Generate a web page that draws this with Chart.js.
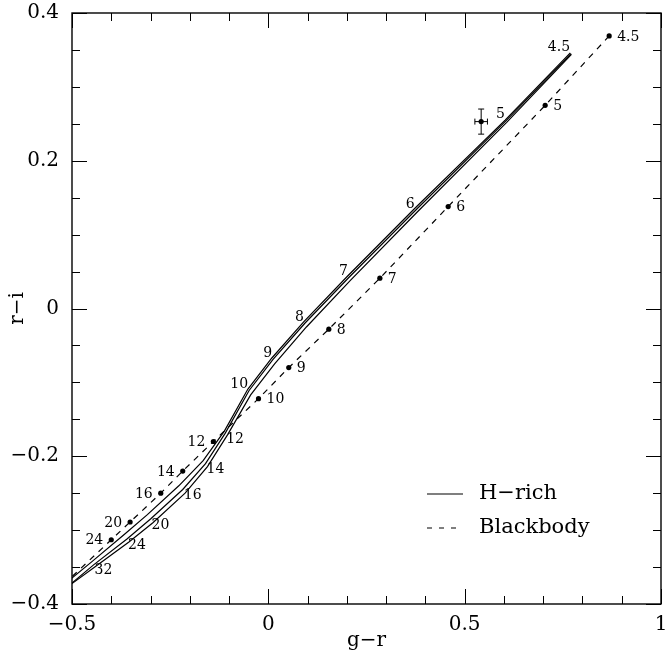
<!DOCTYPE html>
<html><head><meta charset="utf-8">
<script src="https://cdn.jsdelivr.net/npm/chart.js@4.4.0/dist/chart.umd.min.js"></script>
<style>html,body{margin:0;padding:0;background:#fff;}</style>
</head><body>
<canvas id="c" width="665" height="661"></canvas>
<script>
// ---- data ----
const hrichLabels = ['4.5','5','6','7','8','9','10','12','14','16','20','24','32',''];
const hrichA_x = [0.771, 0.605, 0.375, 0.205, 0.093, 0.012, -0.049, -0.110, -0.160, -0.218, -0.300, -0.360, -0.445, -0.530];
const hrichA_y = [0.345, 0.254, 0.133, 0.042, -0.020, -0.069, -0.111, -0.169, -0.210, -0.245, -0.285, -0.312, -0.347, -0.385];
const hrichB_x = [0.769, 0.603, 0.372, 0.202, 0.090, 0.009, -0.052, -0.112, -0.166, -0.228, -0.308, -0.367, -0.450, -0.530];
const hrichB_y = [0.346, 0.255, 0.135, 0.044, -0.018, -0.067, -0.109, -0.166, -0.206, -0.240, -0.279, -0.306, -0.343, -0.378];
const hrichC_x = [0.772, 0.607, 0.378, 0.209, 0.097, 0.016, -0.045, -0.104, -0.155, -0.212, -0.294, -0.355, -0.442, -0.530];
const hrichC_y = [0.344, 0.252, 0.130, 0.038, -0.025, -0.075, -0.117, -0.171, -0.214, -0.250, -0.290, -0.316, -0.350, -0.384];

const bbLabels = ['4.5','5','6','7','8','9','10','12','14','16','20','24',''];
const bb_x = [0.868, 0.705, 0.458, 0.284, 0.154, 0.052, -0.025, -0.140, -0.218, -0.274, -0.352, -0.400, -0.530];
const bb_y = [0.369, 0.275, 0.138, 0.041, -0.028, -0.080, -0.122, -0.180, -0.220, -0.250, -0.289, -0.313, -0.378];

const obs_x = [0.542];
const obs_y = [0.253];
const obs_xerr = [0.016];
const obs_yerr = [0.017];

const xMajorTicks = [-0.5, 0, 0.5, 1];
const xMinorTicks = [-0.4,-0.3,-0.2,-0.1,0.1,0.2,0.3,0.4,0.6,0.7,0.8,0.9];
const yMajorTicks = [-0.4, -0.2, 0, 0.2, 0.4];
const yMinorTicks = [-0.35,-0.3,-0.25,-0.15,-0.1,-0.05,0.05,0.1,0.15,0.25,0.3,0.35];

const legendNames = ['H\u2212rich', 'Blackbody'];
// ---------------

const zip = (xs, ys) => xs.map((v, i) => ({x: v, y: ys[i]}));
const FONT = 'DejaVu Serif';
const fmt = v => {
  if (Math.abs(v) < 1e-9) return '0';
  const s = String(Math.abs(+v.toFixed(2)));
  return (v < 0 ? '\u2212' : '') + s;
};

const lineDs = (xs, ys, dash) => ({
  data: zip(xs, ys), showLine: true, pointRadius: 0, borderColor: '#000',
  borderWidth: 1.2, borderDash: dash || [], tension: 0, fill: false
});

const frameTicks = {
  id: 'frameTicks',
  afterDraw(chart) {
    const {ctx, chartArea: a, scales: {x, y}} = chart;
    ctx.save();
    ctx.strokeStyle = '#000';
    ctx.lineWidth = 1.4;
    ctx.strokeRect(a.left, a.top, a.right - a.left, a.bottom - a.top);
    ctx.lineWidth = 1;
    const xt = (vals, len) => vals.forEach(v => {
      const p = Math.round(x.getPixelForValue(v)) + 0.5;
      ctx.beginPath(); ctx.moveTo(p, a.bottom); ctx.lineTo(p, a.bottom - len);
      ctx.moveTo(p, a.top); ctx.lineTo(p, a.top + len); ctx.stroke();
    });
    const yt = (vals, len) => vals.forEach(v => {
      const p = Math.round(y.getPixelForValue(v)) + 0.5;
      ctx.beginPath(); ctx.moveTo(a.left, p); ctx.lineTo(a.left + len, p);
      ctx.moveTo(a.right, p); ctx.lineTo(a.right - len, p); ctx.stroke();
    });
    xt(xMajorTicks, 15); xt(xMinorTicks, 8);
    yt(yMajorTicks, 15); yt(yMinorTicks, 8);

    // legend
    const lx0 = 427, lx1 = 463, tx = 479, ly = [494, 528];
    ctx.lineWidth = 1.2;
    ctx.beginPath(); ctx.setLineDash([]); ctx.moveTo(lx0, ly[0]); ctx.lineTo(lx1, ly[0]); ctx.stroke();
    ctx.beginPath(); ctx.setLineDash([5, 7]); ctx.moveTo(lx0, ly[1]); ctx.lineTo(lx1, ly[1]); ctx.stroke();
    ctx.setLineDash([]);
    ctx.fillStyle = '#000';
    ctx.font = '21px "' + FONT + '"';
    ctx.textAlign = 'left'; ctx.textBaseline = 'middle';
    legendNames.forEach((n, i) => ctx.fillText(n, tx, ly[i]));
    ctx.restore();
  },
  afterDatasetsDraw(chart) {
    const {ctx, scales: {x, y}} = chart;
    ctx.save();
    ctx.fillStyle = '#000'; ctx.strokeStyle = '#000';
    ctx.font = '14px "' + FONT + '"';
    ctx.textBaseline = 'middle';
    hrichLabels.forEach((t, i) => {
      if (!t) return;
      const px = x.getPixelForValue(hrichA_x[i]), py = y.getPixelForValue(hrichA_y[i]);
      if (i <= 6) { ctx.textAlign = 'right'; ctx.fillText(t, px - 1, py - 6); }
      else { ctx.textAlign = 'left'; ctx.fillText(t, px + 1, py + 6); }
    });
    bbLabels.forEach((t, i) => {
      if (!t) return;
      const px = x.getPixelForValue(bb_x[i]), py = y.getPixelForValue(bb_y[i]);
      if (i <= 6) { ctx.textAlign = 'left'; ctx.fillText(t, px + 8, py + 1); }
      else { ctx.textAlign = 'right'; ctx.fillText(t, px - 8, py + 1); }
    });
    ctx.lineWidth = 1;
    obs_x.forEach((v, i) => {
      const px = x.getPixelForValue(v), py = y.getPixelForValue(obs_y[i]);
      const x0 = x.getPixelForValue(v - obs_xerr[i]), x1 = x.getPixelForValue(v + obs_xerr[i]);
      const y0 = y.getPixelForValue(obs_y[i] - obs_yerr[i]), y1 = y.getPixelForValue(obs_y[i] + obs_yerr[i]);
      ctx.beginPath();
      ctx.moveTo(x0, py); ctx.lineTo(x1, py);
      ctx.moveTo(x0, py - 3); ctx.lineTo(x0, py + 3);
      ctx.moveTo(x1, py - 3); ctx.lineTo(x1, py + 3);
      ctx.moveTo(px, y0); ctx.lineTo(px, y1);
      ctx.moveTo(px - 3, y0); ctx.lineTo(px + 3, y0);
      ctx.moveTo(px - 3, y1); ctx.lineTo(px + 3, y1);
      ctx.stroke();
      ctx.beginPath(); ctx.arc(px, py, 2.6, 0, Math.PI * 2); ctx.fill();
    });
    ctx.restore();
  }
};

new Chart(document.getElementById('c'), {
  type: 'scatter',
  data: {
    datasets: [
      lineDs(hrichA_x, hrichA_y),
      lineDs(hrichB_x, hrichB_y),
      lineDs(hrichC_x, hrichC_y),
      lineDs(bb_x, bb_y, [6, 6]),
      { data: zip(bb_x.slice(0, -1), bb_y.slice(0, -1)), showLine: false, pointRadius: 2.6,
        pointBackgroundColor: '#000', pointBorderColor: '#000', pointBorderWidth: 0 }
    ]
  },
  options: {
    responsive: false, animation: false, devicePixelRatio: 1,
    layout: {padding: {top: 13, right: 1, left: 0, bottom: 0}},
    plugins: {legend: {display: false}, tooltip: {enabled: false}},
    scales: {
      x: {
        type: 'linear', min: -0.5, max: 1,
        grid: {display: false, drawTicks: false},
        border: {display: false},
        ticks: {stepSize: 0.5, padding: 9, color: '#000', font: {family: FONT, size: 20},
                maxRotation: 0, autoSkip: false, callback: v => fmt(v)},
        title: {display: true, text: 'g\u2212r', color: '#000', font: {family: FONT, size: 20},
                padding: {top: 0, bottom: 8}},
        afterFit(s) { s.height = 57; s.paddingLeft = 0; s.paddingRight = 0; }
      },
      y: {
        type: 'linear', min: -0.4, max: 0.4,
        grid: {display: false, drawTicks: false},
        border: {display: false},
        ticks: {stepSize: 0.2, padding: 13, color: '#000', font: {family: FONT, size: 20},
                autoSkip: false, callback: v => fmt(v)},
        title: {display: true, text: 'r\u2212i', color: '#000', font: {family: FONT, size: 20},
                padding: {top: 6, bottom: 0}},
        afterFit(s) { s.width = 72; s.paddingTop = 0; s.paddingBottom = 0; }
      }
    }
  },
  plugins: [frameTicks]
});
</script>
</body></html>
